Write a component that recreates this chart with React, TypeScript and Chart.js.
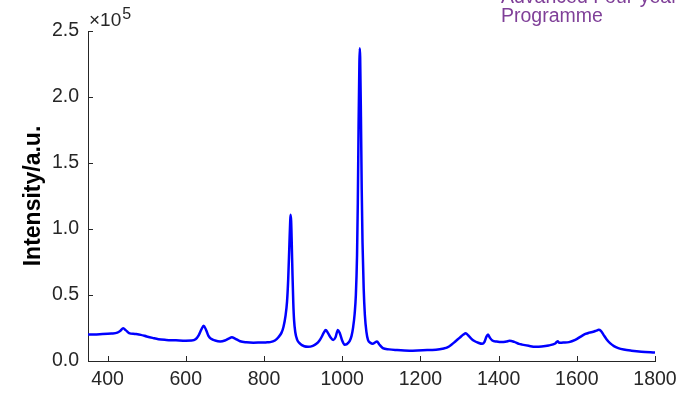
import React, { useEffect, useRef } from "react";
import { Chart, registerables } from "chart.js";

Chart.register(...registerables);

// Raman shift (cm^-1)
const wavenumber = [
  350, 380, 410, 425, 433, 440, 447, 455, 470, 485, 500, 515, 530, 550, 575, 600, 615, 625, 633, 640,
  646, 652, 658, 665, 675, 688, 700, 710, 718, 726, 739, 755, 773, 790, 805, 816, 828, 837, 845, 850,
  855, 859, 862, 865, 867, 868, 869.5, 871, 873, 875, 877, 880, 885, 892, 903, 913, 925, 934, 942, 947,
  953, 958, 963, 970, 977, 983, 989, 994, 1000, 1006, 1012, 1019, 1024, 1028, 1032, 1035, 1038, 1040, 1042, 1044,
  1045, 1046, 1048, 1050, 1052, 1055, 1058, 1062, 1066, 1072, 1078, 1084, 1089, 1095, 1104, 1120, 1138, 1172, 1206, 1240,
  1260, 1269, 1280, 1290, 1300, 1310, 1316, 1322, 1330, 1337, 1348, 1358, 1364, 1369, 1373, 1378, 1384, 1395, 1409, 1420,
  1428, 1440, 1452, 1460, 1477, 1494, 1510, 1528, 1545, 1551, 1555, 1565, 1580, 1596, 1610, 1622, 1632, 1642, 1650, 1656,
  1661, 1668, 1676, 1685, 1695, 1706, 1720, 1740, 1765, 1800,
];

// Intensity in units of 1e5 a.u.
const intensity1e5 = [
  0.2, 0.203, 0.208, 0.215, 0.23, 0.248, 0.232, 0.212, 0.205, 0.198, 0.186, 0.175, 0.165, 0.16, 0.157, 0.154, 0.155, 0.165, 0.195, 0.24,
  0.267, 0.235, 0.19, 0.168, 0.155, 0.148, 0.155, 0.17, 0.18, 0.17, 0.15, 0.142, 0.139, 0.14, 0.141, 0.143, 0.155, 0.18, 0.215, 0.26,
  0.34, 0.45, 0.62, 0.88, 1.05, 1.108, 1.06, 0.9, 0.65, 0.44, 0.31, 0.22, 0.16, 0.132, 0.112, 0.108, 0.115, 0.13, 0.155, 0.18,
  0.215, 0.235, 0.215, 0.18, 0.16, 0.18, 0.235, 0.21, 0.155, 0.124, 0.128, 0.15, 0.19, 0.255, 0.36, 0.5, 0.8, 1.2, 1.8, 2.25,
  2.37, 2.3, 1.85, 1.3, 0.9, 0.55, 0.35, 0.22, 0.16, 0.138, 0.13, 0.14, 0.148, 0.125, 0.098, 0.088, 0.083, 0.078, 0.082, 0.085,
  0.095, 0.103, 0.125, 0.15, 0.175, 0.2, 0.21, 0.195, 0.17, 0.153, 0.138, 0.13, 0.145, 0.185, 0.2, 0.175, 0.155, 0.147, 0.143, 0.148,
  0.153, 0.145, 0.13, 0.124, 0.115, 0.108, 0.11, 0.118, 0.133, 0.15, 0.138, 0.14, 0.143, 0.16, 0.185, 0.205, 0.215, 0.222, 0.23, 0.236,
  0.23, 0.2, 0.165, 0.135, 0.113, 0.098, 0.087, 0.078, 0.07, 0.064,
];

const xTicks = [400, 600, 800, 1000, 1200, 1400, 1600, 1800];
const yTicks = [0, 0.5, 1.0, 1.5, 2.0, 2.5];

const FONT = "'Liberation Sans', Arial, Helvetica, sans-serif";
const AXIS_COLOR = "#262626";

const decorPlugin = {
  id: "decor",
  afterDraw(chart: any) {
    const ctx = chart.ctx;
    const xs = chart.scales.x;
    const ys = chart.scales.y;
    const area = chart.chartArea;
    ctx.save();
    // inward tick marks
    ctx.strokeStyle = AXIS_COLOR;
    ctx.lineWidth = 1;
    ctx.beginPath();
    for (const v of xTicks) {
      const px = Math.round(xs.getPixelForValue(v)) + 0.5;
      ctx.moveTo(px, area.bottom);
      ctx.lineTo(px, area.bottom - 5);
    }
    for (const v of yTicks) {
      const py = Math.round(ys.getPixelForValue(v)) + 0.5;
      ctx.moveTo(area.left, py);
      ctx.lineTo(area.left + 5, py);
    }
    ctx.stroke();

    // exponent label
    ctx.fillStyle = AXIS_COLOR;
    ctx.textBaseline = "alphabetic";
    ctx.textAlign = "left";
    ctx.font = `19px ${FONT}`;
    ctx.fillText("\u00d710", area.left + 1, 26);
    const w = ctx.measureText("\u00d710").width;
    ctx.font = `16px ${FONT}`;
    ctx.fillText("5", area.left + 2 + w, 19);

    // y axis title
    ctx.save();
    ctx.translate(34, (area.top + area.bottom) / 2);
    ctx.rotate(-Math.PI / 2);
    ctx.textAlign = "center";
    ctx.textBaseline = "middle";
    ctx.font = `bold 23px ${FONT}`;
    ctx.fillStyle = "#000000";
    ctx.fillText("Intensity/a.u.", 0, 0);
    ctx.restore();

    // watermark text at top right
    ctx.fillStyle = "#7f3f98";
    ctx.font = `19.5px ${FONT}`;
    ctx.textAlign = "left";
    ctx.textBaseline = "alphabetic";
    ctx.fillText("Advanced Four-year", 501, 3);
    ctx.fillText("Programme", 501, 22);
    ctx.restore();
  },
};

export default function App() {
  const ref = useRef<HTMLCanvasElement | null>(null);
  useEffect(() => {
    document.body.style.margin = "0";
    const canvas = ref.current;
    if (!canvas) return;
    const points = wavenumber.map((x, i) => ({ x, y: intensity1e5[i] }));
    const chart = new Chart(canvas, {
      type: "line",
      data: {
        datasets: [
          {
            data: points,
            borderColor: "#0000ff",
            borderWidth: 2.5,
            pointRadius: 0,
            fill: false,
            cubicInterpolationMode: "monotone",
          },
        ],
      },
      options: {
        animation: false,
        responsive: false,
        maintainAspectRatio: false,
        devicePixelRatio: 1,
        layout: { padding: { top: 31, right: 34, left: 0, bottom: 0 } },
        plugins: { legend: { display: false }, tooltip: { enabled: false } },
        scales: {
          x: {
            type: "linear",
            min: 350,
            max: 1800,
            afterBuildTicks: (s: any) => {
              s.ticks = xTicks.map((v) => ({ value: v }));
            },
            afterFit: (s: any) => {
              s.height = 33;
            },
            grid: { display: false, drawTicks: false },
            border: { display: true, color: AXIS_COLOR, width: 1 },
            ticks: {
              color: AXIS_COLOR,
              font: { family: FONT, size: 19.5 },
              padding: 7,
              maxRotation: 0,
              autoSkip: false,
              callback: (v: any) => String(v),
            },
          },
          y: {
            type: "linear",
            min: 0,
            max: 2.5,
            afterBuildTicks: (s: any) => {
              s.ticks = yTicks.map((v) => ({ value: v }));
            },
            afterFit: (s: any) => {
              s.width = 88;
            },
            grid: { display: false, drawTicks: false },
            border: { display: true, color: AXIS_COLOR, width: 1 },
            ticks: {
              color: AXIS_COLOR,
              font: { family: FONT, size: 19.5 },
              padding: 9,
              autoSkip: false,
              callback: (v: any) => Number(v).toFixed(1),
            },
          },
        },
      },
      plugins: [decorPlugin],
    });
    return () => chart.destroy();
  }, []);
  return <canvas ref={ref} width={689} height={394} style={{ display: "block" }} />;
}
